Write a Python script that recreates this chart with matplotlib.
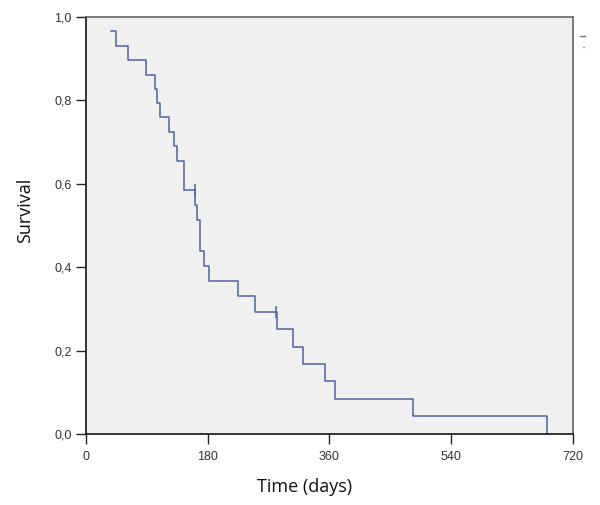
import matplotlib
matplotlib.use('Agg')
import matplotlib.pyplot as plt
from matplotlib.lines import Line2D

# Kaplan-Meier curve
event_days = [37, 44, 62, 89, 102, 105, 110, 123, 130, 135, 145,
              162, 164, 169, 175, 182, 225, 250, 282, 307, 321, 353, 369, 484, 683]
survival = [0.966, 0.931, 0.897, 0.862, 0.828, 0.793, 0.759, 0.724, 0.690, 0.655, 0.586,
            0.549, 0.513, 0.440, 0.403, 0.366, 0.330, 0.293, 0.251, 0.209, 0.167, 0.126,
            0.084, 0.042, 0.0]
censor_days = [161, 281]
censor_surv = [0.586, 0.293]

xticks = [0, 180, 360, 540, 720]
yticks = [0.0, 0.2, 0.4, 0.6, 0.8, 1.0]
ytick_labels = ['0,0', '0,2', '0,4', '0,6', '0,8', '1,0']

line_col = '#4f61a8'

fig = plt.figure(figsize=(6, 5.05), dpi=100)
ax = fig.add_axes([86 / 600, 71 / 505, 486.5 / 600, 417 / 505])
ax.set_facecolor('#f0f0f0')

# step line: starts at the first plotted level, then drops at each event
xs = [event_days[0]]
ys = [survival[0]]
for i in range(1, len(event_days)):
    xs += [event_days[i], event_days[i]]
    ys += [survival[i - 1], survival[i]]
ax.plot(xs, ys, color=line_col, linewidth=1.1)
ax.plot(censor_days, censor_surv, linestyle='none', marker='|', markersize=8,
        markeredgewidth=1.1, color=line_col)

ax.set_xlim(0, 720)
ax.set_ylim(0, 1)
ax.set_xticks(xticks)
ax.set_yticks(yticks)
ax.set_yticklabels(ytick_labels)
ax.tick_params(direction='out', length=7.5, width=1, colors='#222222',
               labelsize=9, labelcolor='#333333')
for lab in ax.get_xticklabels() + ax.get_yticklabels():
    lab.set_family('Liberation Sans')
ax.tick_params(axis='x', pad=5)
ax.tick_params(axis='y', pad=3)

ax.spines['left'].set_color('#111111')
ax.spines['bottom'].set_color('#111111')
ax.spines['top'].set_color('#666666')
ax.spines['right'].set_color('#666666')
for s in ax.spines.values():
    s.set_linewidth(1.2)

fig.text(305 / 600, 1 - 487 / 505, 'Time (days)', family='Open Sans', fontsize=13,
         ha='center', va='center', color='#111111')
fig.text(25 / 600, 1 - 210 / 505, 'Survival', family='Open Sans', fontsize=13,
         ha='center', va='center', rotation=90, color='#111111')

# leftover legend bits at the right edge
fig.add_artist(Line2D([580 / 600, 585 / 600], [1 - 36 / 505, 1 - 36 / 505],
                      color='#777777', linewidth=1))
fig.add_artist(Line2D([583 / 600, 584 / 600], [1 - 47 / 505, 1 - 47 / 505],
                      color='#aaaaaa', linewidth=1))

fig.savefig('out.png', dpi=100, facecolor='white')
